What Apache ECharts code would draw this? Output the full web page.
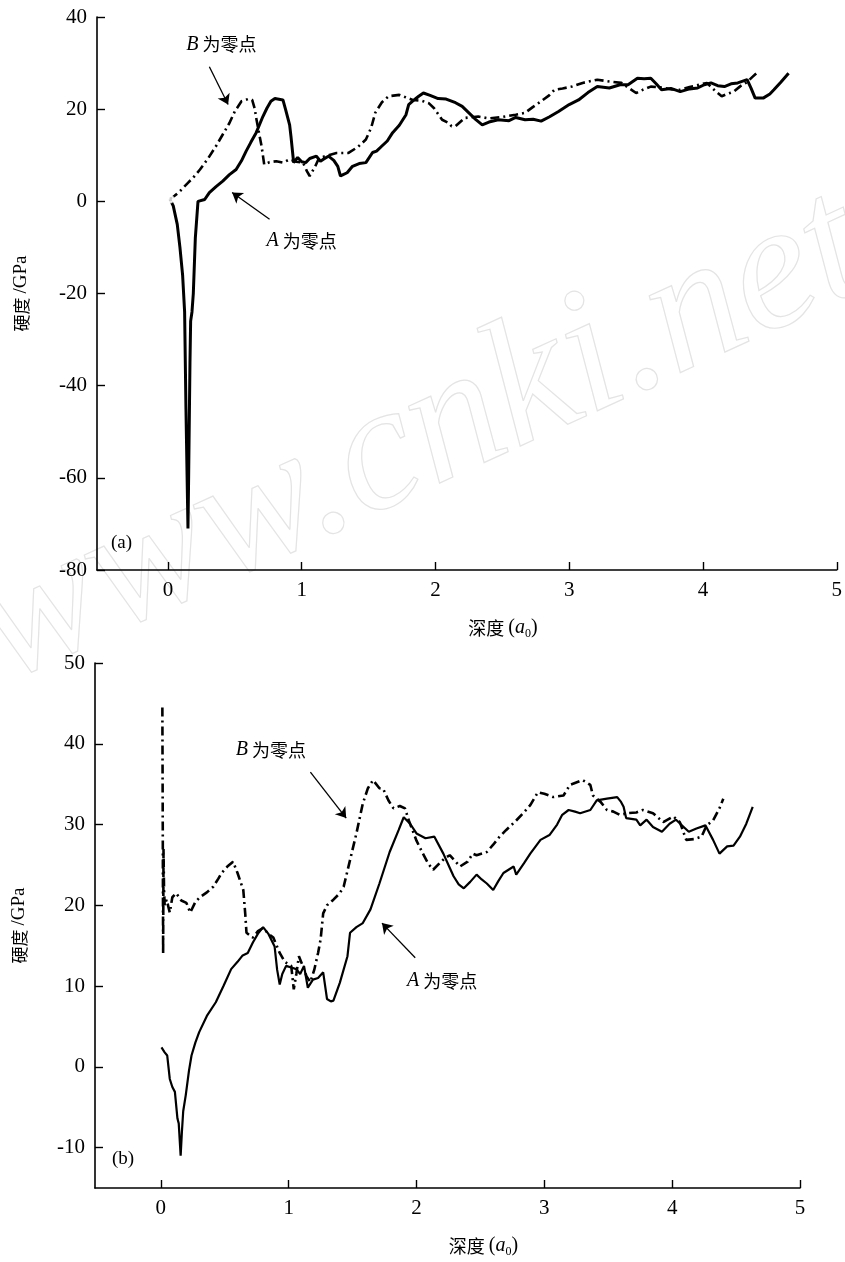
<!DOCTYPE html>
<html><head><meta charset="utf-8">
<script src="https://cdn.jsdelivr.net/npm/echarts@6/dist/echarts.min.js"></script>
<style>html,body{margin:0;padding:0;background:#fff}#c{width:845px;height:1262px}</style>
</head><body><div id="c"></div>
<script>
const xTickValues=[0,1,2,3,4,5];
const topYTicks=[-80,-60,-40,-20,0,20,40];
const botYTicks=[-10,0,10,20,30,40,50];

const topDepthA=[0.015,0.04,0.07,0.09,0.11,0.125,0.135,0.15,0.155,0.165,0.17,0.18,0.19,0.205,0.225,0.275,0.31,0.36,0.41,0.46,0.51,0.55,0.585,0.62,0.66,0.71,0.74,0.77,0.8,0.82,0.86,0.88,0.91,0.92,0.94,0.97,1.0,1.03,1.06,1.11,1.14,1.16,1.2,1.24,1.27,1.29,1.31,1.34,1.38,1.43,1.48,1.53,1.56,1.6,1.64,1.68,1.73,1.78,1.8,1.84,1.875,1.91,1.96,2.02,2.08,2.15,2.2,2.25,2.3,2.35,2.4,2.47,2.55,2.6,2.67,2.73,2.79,2.85,2.92,3.0,3.07,3.14,3.21,3.3,3.38,3.44,3.51,3.56,3.61,3.65,3.69,3.76,3.83,3.9,3.96,4.01,4.06,4.11,4.16,4.21,4.26,4.33,4.36,4.39,4.45,4.5,4.53,4.58,4.64];
const topHardA=[0.5,-1,-5,-10,-16,-24,-45,-71,-60,-35,-26,-24,-20,-8,0,0.4,1.9,3.2,4.4,5.8,6.9,8.8,10.9,12.8,14.9,18.4,20.2,21.7,22.3,22.2,22,19.9,16.6,14.1,8.4,9.5,8.6,8.4,9.3,9.8,8.7,9.1,9.8,8.9,7.6,5.5,5.8,6.2,7.6,8.2,8.4,10.6,10.9,12,13.1,14.9,16.5,18.8,21,22,22.8,23.5,23,22.3,22.2,21.4,20.6,19.2,17.8,16.6,17.2,17.7,17.5,18.2,17.7,17.8,17.4,18.3,19.5,21,22,23.6,24.9,24.6,25.3,25.3,26.7,26.6,26.7,25.5,24.2,24.5,23.8,24.4,24.6,25.3,25.7,25.1,24.9,25.5,25.7,26.4,24.5,22.4,22.4,23.3,24.2,25.8,27.8];

const topDepthB=[0.015,0.05,0.09,0.15,0.2,0.24,0.3,0.36,0.41,0.46,0.5,0.55,0.6,0.63,0.65,0.66,0.68,0.7,0.72,0.76,0.81,0.86,0.91,0.96,1.01,1.04,1.06,1.1,1.13,1.2,1.26,1.35,1.42,1.48,1.52,1.55,1.6,1.65,1.73,1.83,1.9,1.95,1.99,2.05,2.1,2.12,2.15,2.22,2.32,2.4,2.5,2.6,2.67,2.73,2.79,2.85,2.89,2.95,3.02,3.1,3.21,3.3,3.39,3.45,3.5,3.55,3.61,3.7,3.76,3.83,3.9,3.97,4.03,4.09,4.14,4.18,4.23,4.28,4.33,4.37,4.4];
const topHardB=[0.5,1.2,2.2,4,5.5,6.9,9.3,12,14.5,17,19.5,21.7,22.2,22,20,18.1,15,12,8,8.5,8.7,8.4,9.1,8.6,8.4,6.5,5.5,7.5,9.4,10,10.5,10.5,11.8,13.4,16,19.2,21.5,22.8,23.1,22,21.8,21.3,20.2,17.7,17,16.3,16.3,18.1,18.4,18,18.3,18.8,19.2,20.5,21.7,23,24.2,24.5,24.9,25.7,26.4,26,25.7,24.5,23.5,24.2,24.9,24.7,24.3,24.2,24.8,25.3,25.7,24,22.8,23.3,23.8,25,25.9,27,27.8];

const botDepthA=[0.005,0.03,0.05,0.07,0.09,0.11,0.13,0.14,0.155,0.165,0.175,0.195,0.22,0.24,0.27,0.3,0.36,0.43,0.49,0.55,0.6,0.64,0.68,0.72,0.76,0.8,0.84,0.89,0.91,0.93,0.95,0.98,1.02,1.06,1.09,1.12,1.15,1.19,1.23,1.27,1.3,1.33,1.35,1.4,1.46,1.48,1.53,1.58,1.64,1.71,1.79,1.86,1.9,1.95,2.0,2.07,2.14,2.21,2.25,2.29,2.33,2.37,2.42,2.47,2.51,2.55,2.6,2.64,2.68,2.72,2.76,2.78,2.84,2.89,2.97,3.04,3.1,3.14,3.19,3.24,3.28,3.36,3.41,3.49,3.57,3.6,3.62,3.64,3.72,3.75,3.8,3.85,3.92,3.98,4.03,4.09,4.13,4.19,4.26,4.32,4.37,4.43,4.48,4.53,4.58,4.63];
const botHardA=[2.4,1.8,1.4,-1.5,-2.5,-3.1,-6.4,-7,-11,-8,-5.5,-3.5,-0.5,1.4,3,4.3,6.3,8,10,12.1,13,13.8,14.1,15.4,16.5,17.3,16.5,14.9,12,10.2,11.5,12.5,12.3,12.1,11.5,12.5,9.8,10.8,11,11.7,8.4,8.1,8.2,10.4,13.7,16.6,17.3,17.8,19.5,22.7,26.6,29.3,30.9,30.1,28.9,28.3,28.5,26.4,25,23.6,22.6,22.1,22.9,23.8,23.2,22.7,21.9,23,24,24.4,24.8,23.8,25.2,26.4,28.1,28.7,30,31.2,31.8,31.6,31.4,31.8,33,33.2,33.4,32.8,32.2,30.8,30.6,29.9,30.6,29.7,29.1,30.1,30.6,29.7,29.1,29.5,29.9,28.1,26.4,27.3,27.4,28.5,30.1,32.2];

const botDepthB=[0.012,0.015,0.018,0.021,0.025,0.03,0.045,0.07,0.09,0.12,0.16,0.2,0.23,0.27,0.305,0.36,0.41,0.45,0.475,0.52,0.565,0.6,0.645,0.66,0.67,0.72,0.76,0.8,0.84,0.88,0.93,0.97,1.02,1.04,1.06,1.08,1.11,1.14,1.17,1.2,1.23,1.25,1.27,1.3,1.35,1.4,1.43,1.48,1.53,1.58,1.62,1.66,1.71,1.74,1.78,1.82,1.87,1.91,1.94,2.0,2.05,2.09,2.13,2.18,2.22,2.26,2.3,2.34,2.4,2.44,2.47,2.55,2.6,2.65,2.7,2.78,2.84,2.89,2.95,3.0,3.07,3.15,3.2,3.3,3.36,3.38,3.44,3.49,3.54,3.59,3.65,3.72,3.77,3.85,3.93,4.01,4.06,4.11,4.17,4.23,4.27,4.32,4.37,4.4];
const botHardB=[44.5,30,14,27,22,20,20.7,19.1,21,21.5,20.6,20.3,19.1,20.4,21,21.6,22.3,23.3,24,24.8,25.4,24,21.9,19,16.6,16,16.8,17.2,16.5,16,14.1,13,12.5,9.6,11.5,13.7,12.5,11.2,10.5,12,14.1,15.8,19,20,20.7,21.5,22.3,25.6,28.9,32.6,34.5,35.5,34.5,34.4,33,32,32.3,32,30.5,28,26.4,25.2,24.4,25.2,25.8,26.2,25.5,24.8,25.4,26.4,26.2,26.6,27.5,28.5,29.3,30.5,31.5,32.4,34,33.8,33.4,33.6,34.9,35.5,34.9,33.6,32.8,31.8,31.6,31.2,31.4,31.5,31.8,31.4,30.3,31,30.3,28.1,28.2,28.5,29.9,30.5,32,33.2];

const zip=(xs,ys)=>xs.map((x,i)=>[x,ys[i]]);
const SERIF='"Liberation Serif","Times New Roman",serif';
const CJK='"Noto Sans CJK SC","Noto Sans",sans-serif';
const DASHDOT=[9,4,2,4];

function xAxisCfg(grid,min){
  return {type:'value',gridIndex:grid,min:min,max:5,
    name:'深度 {p|(}{i|a}{s|0}{p|)}',nameLocation:'middle',nameGap:46,
    nameTextStyle:{fontFamily:CJK,fontSize:18,color:'#000',padding:[0,0,0,72],
      rich:{p:{fontFamily:SERIF,fontSize:20,color:'#000'},
            i:{fontFamily:SERIF,fontStyle:'italic',fontSize:20,color:'#000'},
            s:{fontFamily:SERIF,fontSize:12,color:'#000',padding:[12,0,0,0]}}},
    axisLine:{show:true,onZero:false,lineStyle:{color:'#000',width:1.6}},
    axisTick:{show:true,inside:true,length:8,lineStyle:{color:'#000',width:1.4},customValues:xTickValues},
    axisLabel:{show:true,margin:10,color:'#000',fontFamily:SERIF,fontSize:21,customValues:xTickValues},
    splitLine:{show:false}};
}
function yAxisCfg(grid,min,max,ticks){
  return {type:'value',gridIndex:grid,min:min,max:max,
    name:'硬度 {s|/GPa}',nameLocation:'middle',nameGap:66,nameRotate:90,
    nameTextStyle:{fontFamily:CJK,fontSize:17,color:'#000',
      rich:{s:{fontFamily:SERIF,fontSize:19,color:'#000'}}},
    axisLine:{show:true,onZero:false,lineStyle:{color:'#000',width:1.6}},
    axisTick:{show:true,inside:true,length:8,lineStyle:{color:'#000',width:1.4},customValues:ticks},
    axisLabel:{show:true,margin:10,color:'#000',fontFamily:SERIF,fontSize:21,customValues:ticks},
    splitLine:{show:false}};
}
const arrowLine=(a,b)=>[{coord:a},{coord:b}];
const labelPoint=(c,txt)=>({coord:c,symbol:'circle',symbolSize:0,
  label:{show:true,position:'inside',formatter:txt,fontFamily:CJK,fontSize:18,color:'#000',
    rich:{i:{fontFamily:SERIF,fontStyle:'italic',fontSize:20,color:'#000'}}}});
const mlStyle={symbol:['none','arrow'],symbolSize:10,silent:true,animation:false,
  lineStyle:{color:'#000',width:1.3,type:'solid'},itemStyle:{color:'#000'},label:{show:false},emphasis:{disabled:true}};

const option={
  animation:false,
  backgroundColor:'#fff',
  grid:[
    {left:97,right:5,top:17,bottom:692,containLabel:false},
    {left:95,right:45,top:663,bottom:74,containLabel:false}
  ],
  xAxis:[xAxisCfg(0,-0.53),xAxisCfg(1,-0.515)],
  yAxis:[yAxisCfg(0,-80,40,topYTicks),yAxisCfg(1,-15,50,botYTicks)],
  graphic:[
    {type:'text',x:420,y:440,rotation:0.43,silent:true,z:0,
      style:{text:'www.cnki.net',font:'italic 180px "Liberation Serif"',align:'center',verticalAlign:'middle',
        fill:'rgba(255,255,255,0)',stroke:'#e4e4e4',lineWidth:1.2}},
    {type:'text',left:111,top:534,style:{text:'(a)',font:'19px "Liberation Serif"',fill:'#000'}},
    {type:'text',left:112,top:1150,style:{text:'(b)',font:'19px "Liberation Serif"',fill:'#000'}}
  ],
  series:[
    {type:'line',xAxisIndex:0,yAxisIndex:0,data:zip(topDepthA,topHardA),showSymbol:false,
      lineStyle:{color:'#000',width:3},z:3,
      markLine:Object.assign({data:[arrowLine([0.76,-3.9],[0.48,1.9])]},mlStyle),
      markPoint:{silent:true,data:[labelPoint([1.0,-8.6],'{i|A} 为零点')]}},
    {type:'line',xAxisIndex:0,yAxisIndex:0,data:zip(topDepthB,topHardB),showSymbol:false,
      lineStyle:{color:'#000',width:2.6,type:DASHDOT},z:3,
      markLine:Object.assign({data:[arrowLine([0.31,29.2],[0.45,21])]},mlStyle),
      markPoint:{silent:true,data:[labelPoint([0.40,34],'{i|B} 为零点')]}},
    {type:'scatter',xAxisIndex:0,yAxisIndex:0,data:[[topDepthA[0],topHardA[0]]],
      symbol:'emptyCircle',symbolSize:7,itemStyle:{color:'#fff',borderColor:'#000',borderWidth:1.6},z:4},
    {type:'line',xAxisIndex:1,yAxisIndex:1,data:zip(botDepthA,botHardA),showSymbol:false,
      lineStyle:{color:'#000',width:2.2},z:3,
      markLine:Object.assign({data:[arrowLine([1.99,13.5],[1.73,17.8])]},mlStyle),
      markPoint:{silent:true,data:[labelPoint([2.2,10.6],'{i|A} 为零点')]}},
    {type:'line',xAxisIndex:1,yAxisIndex:1,data:zip(botDepthB,botHardB),showSymbol:false,
      lineStyle:{color:'#000',width:2.6,type:DASHDOT},z:3,
      markLine:Object.assign({data:[arrowLine([1.17,36.5],[1.45,30.8])]},mlStyle),
      markPoint:{silent:true,data:[labelPoint([0.86,39.2],'{i|B} 为零点')]}}
  ]
};
const chart=echarts.init(document.getElementById('c'),null,{renderer:'canvas'});
chart.setOption(option);
</script>
</body></html>
